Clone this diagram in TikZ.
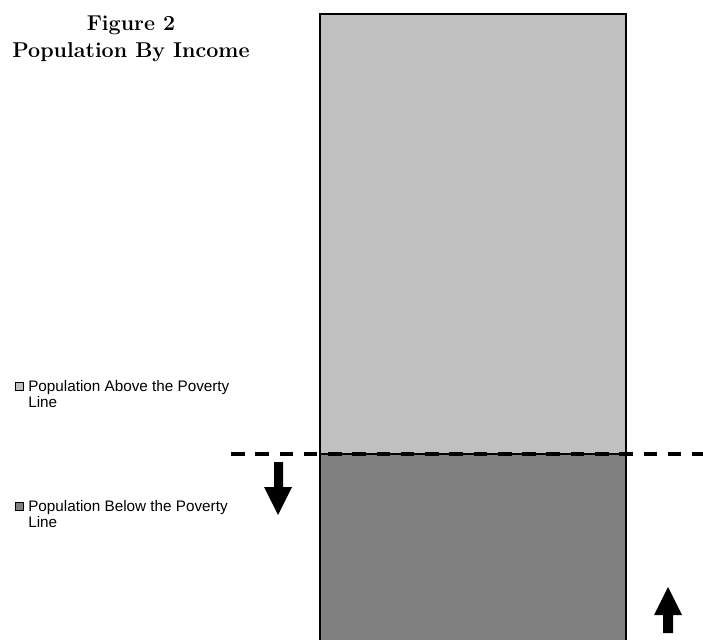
\documentclass[tikz,border=0pt]{standalone}
\usepackage{fontspec}
\newfontfamily\arialfont{Liberation Sans}
\definecolor{lightbar}{HTML}{C0C0C0}
\definecolor{darkbar}{HTML}{808080}
\begin{document}
\begin{tikzpicture}[x=0.75pt,y=-0.75pt,
  titletext/.style={font=\fontsize{16.1}{18}\selectfont\bfseries, anchor=base, inner sep=0pt},
  legendtext/.style={font=\arialfont\fontsize{11.45}{12}\selectfont, anchor=base west, inner sep=0pt, align=left},
  legendbox/.style={draw=black, line width=0.5pt},
  barpart/.style={draw=black, line width=1.1pt},
  bigarrow/.style={fill=black, draw=none}]
\useasboundingbox (0,0) rectangle (703,639);
% bar
\filldraw[barpart, fill=lightbar] (320,14) rectangle (626,454);
\filldraw[barpart, fill=darkbar] (320,454) rectangle (626,650);
% dashed poverty line
\coordinate (dl) at (231,454);
\coordinate (dr) at (703,454);
\draw[line width=2.3pt, dash pattern=on 10.2pt off 8pt] (dl) -- (dr);
% arrows
\fill[bigarrow] (274,462) -- (283,462) -- (283,487) -- (292,487) -- (278,515) -- (264,487) -- (274,487) -- cycle;
\fill[bigarrow] (663,633) -- (673,633) -- (673,615) -- (682,615) -- (668,587) -- (654,615) -- (663,615) -- cycle;
% title
\node[titletext] (t1) at (131,31) {Figure 2};
\node[titletext] (t2) at (131,57) {Population By Income};
% legend
\filldraw[legendbox, fill=lightbar] (15,382) rectangle (23,390);
\node[legendtext] (l1a) at (28,391) {Population Above the Poverty};
\node[legendtext] (l1b) at (28,407) {Line};
\filldraw[legendbox, fill=darkbar] (15,502) rectangle (23,510);
\node[legendtext] (l2a) at (28,511) {Population Below the Poverty};
\node[legendtext] (l2b) at (28,527) {Line};
\end{tikzpicture}
\end{document}
